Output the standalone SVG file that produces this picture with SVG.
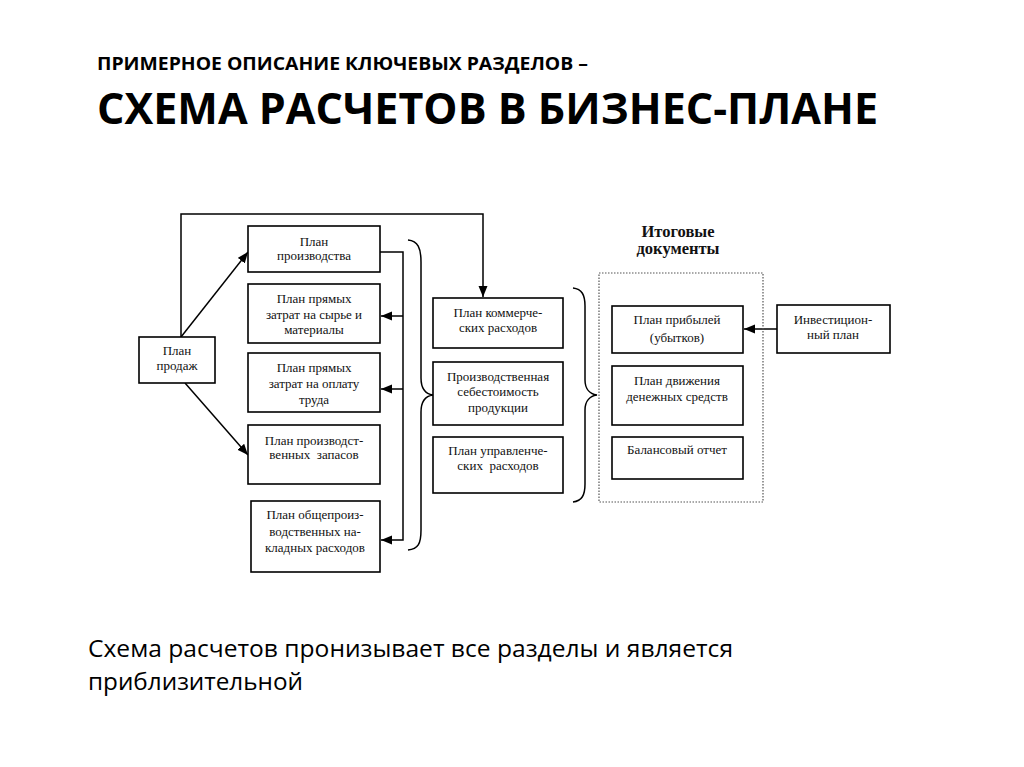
<svg xmlns="http://www.w3.org/2000/svg" width="1024" height="767" viewBox="0 0 1024 767">
<defs>
<marker id="ah" markerUnits="userSpaceOnUse" markerWidth="12" markerHeight="10" refX="11" refY="4.5" orient="auto">
<path d="M0,0 L11,4.5 L0,9 z" fill="#000"/>
</marker>
</defs>
<style>
.box{fill:#fff;stroke:#000;stroke-width:1.6}
.t{font-family:"Liberation Serif","Times New Roman",serif;font-size:13px;fill:#111;text-anchor:middle}
.tb{font-family:"Liberation Serif","Times New Roman",serif;font-size:16.5px;font-weight:bold;fill:#111;text-anchor:middle}
.c{fill:none;stroke:#000;stroke-width:1.5}
.br{fill:none;stroke:#000;stroke-width:1.5}
.h{font-family:"Open Sans","Noto Sans",sans-serif;font-weight:bold;fill:#000}
.n{font-family:"Open Sans","Noto Sans",sans-serif;fill:#000}
</style>
<rect width="1024" height="767" fill="#fff"/>
<text class="h" x="97" y="70" font-size="18" textLength="491" lengthAdjust="spacingAndGlyphs">ПРИМЕРНОЕ ОПИСАНИЕ КЛЮЧЕВЫХ РАЗДЕЛОВ –</text>
<text class="h" x="97" y="124" font-size="43" textLength="781" lengthAdjust="spacingAndGlyphs">СХЕМА РАСЧЕТОВ В БИЗНЕС-ПЛАНЕ</text>

<g id="connectors">
<polyline class="c" points="181,337 181,214 483,214 483,297" marker-end="url(#ah)"/>
<line class="c" x1="181" y1="337" x2="248" y2="252" marker-end="url(#ah)"/>
<line class="c" x1="185" y1="383" x2="248" y2="455" marker-end="url(#ah)"/>
<polyline class="c" points="380,252 403,252 403,540 381,540" marker-end="url(#ah)"/>
<line class="c" x1="403" y1="316" x2="381" y2="316" marker-end="url(#ah)"/>
<line class="c" x1="403" y1="389" x2="381" y2="389" marker-end="url(#ah)"/>
<line class="c" x1="777" y1="329" x2="744" y2="329" marker-end="url(#ah)"/>
<path class="br" d="M408,240 C418,241 421,248 421,262 L421,378 C421,389 426,394 433,395 C426,396 421,401 421,412 L421,530 C421,544 418,549 408,550"/>
<path class="br" d="M573,288 C582,289 585,295 585,306 L585,380 C585,389 590,394 597,395 C590,396 585,401 585,410 L585,484 C585,495 582,501 573,502"/>
</g>

<g id="sales">
<rect class="box" x="139" y="337" width="76" height="46"/>
<text class="t" x="177" y="355">План</text>
<text class="t" x="177" y="370">продаж</text>
</g>
<g id="production">
<rect class="box" x="248" y="226" width="132" height="46"/>
<text class="t" x="314" y="246">План</text>
<text class="t" x="314" y="260">производства</text>
</g>
<g id="materials">
<rect class="box" x="248" y="284" width="132" height="59"/>
<text class="t" x="314" y="303">План прямых</text>
<text class="t" x="314" y="319">затрат на сырье и</text>
<text class="t" x="314" y="334">материалы</text>
</g>
<g id="labor">
<rect class="box" x="248" y="353" width="132" height="59"/>
<text class="t" x="314" y="372">План прямых</text>
<text class="t" x="314" y="388">затрат на оплату</text>
<text class="t" x="314" y="404">труда</text>
</g>
<g id="stocks">
<rect class="box" x="248" y="425" width="132" height="59"/>
<text class="t" x="314" y="445">План производст-</text>
<text class="t" x="314" y="459" xml:space="preserve">венных  запасов</text>
</g>
<g id="overhead">
<rect class="box" x="251" y="501" width="129" height="71"/>
<text class="t" x="315" y="519">План общепроиз-</text>
<text class="t" x="315" y="536">водственных на-</text>
<text class="t" x="315" y="552">кладных расходов</text>
</g>
<g id="commercial">
<rect class="box" x="433" y="298" width="130" height="50"/>
<text class="t" x="498" y="317">План коммерче-</text>
<text class="t" x="498" y="332">ских расходов</text>
</g>
<g id="cost">
<rect class="box" x="433" y="362" width="130" height="63"/>
<text class="t" x="498" y="381">Производственная</text>
<text class="t" x="498" y="396">себестоимость</text>
<text class="t" x="498" y="412">продукции</text>
</g>
<g id="admin">
<rect class="box" x="433" y="437" width="130" height="56"/>
<text class="t" x="498" y="455">План управленче-</text>
<text class="t" x="498" y="470" xml:space="preserve">ских  расходов</text>
</g>
<g id="final">
<text class="tb" x="678" y="237">Итоговые</text>
<text class="tb" x="678" y="254">документы</text>
<rect x="599" y="273" width="164" height="229" fill="none" stroke="#555" stroke-width="1.2" stroke-dasharray="1.5,1.5"/>
</g>
<g id="profit">
<rect class="box" x="612" y="306" width="131" height="47"/>
<text class="t" x="677" y="324">План прибылей</text>
<text class="t" x="677" y="342">(убытков)</text>
</g>
<g id="cashflow">
<rect class="box" x="612" y="366" width="131" height="59"/>
<text class="t" x="677" y="385">План движения</text>
<text class="t" x="677" y="401">денежных средств</text>
</g>
<g id="balance">
<rect class="box" x="612" y="437" width="131" height="42"/>
<text class="t" x="677" y="454">Балансовый отчет</text>
</g>
<g id="investment">
<rect class="box" x="777" y="305" width="113" height="48"/>
<text class="t" x="833" y="324">Инвестицион-</text>
<text class="t" x="833" y="339">ный план</text>
</g>

<text class="n" x="88" y="657" font-size="24" textLength="645" lengthAdjust="spacingAndGlyphs">Схема расчетов пронизывает все разделы и является</text>
<text class="n" x="88" y="690" font-size="24" textLength="215" lengthAdjust="spacingAndGlyphs">приблизительной</text>
</svg>
